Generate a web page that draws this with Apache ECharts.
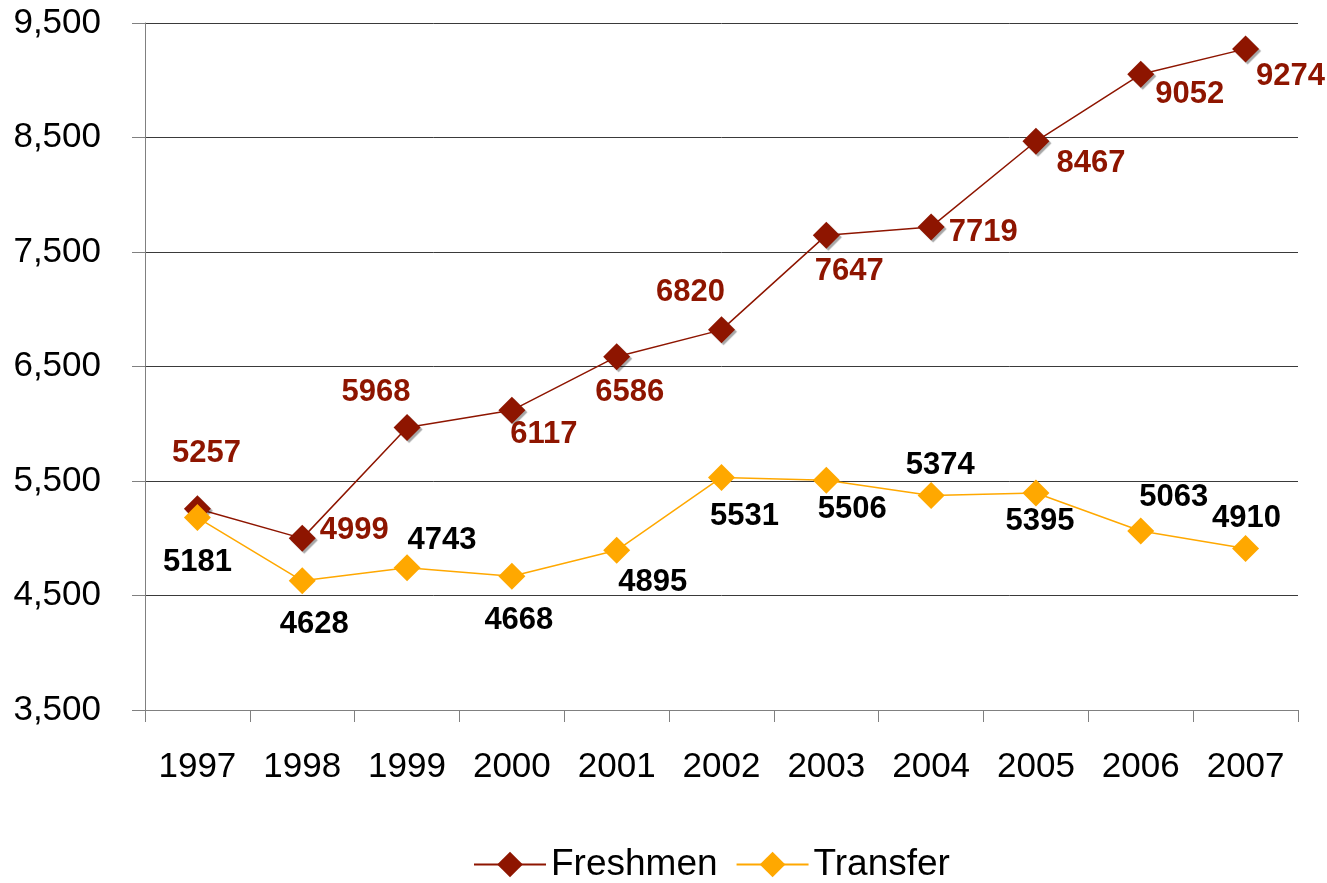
<!DOCTYPE html>
<html>
<head>
<meta charset="utf-8">
<script src="https://cdn.jsdelivr.net/npm/echarts@6/dist/echarts.min.js"></script>
<style>
  html, body { margin: 0; padding: 0; background: #fff; }
  #main { width: 1327px; height: 883px; }
</style>
</head>
<body>
<div id="main"></div>
<script>
var years = ['1997', '1998', '1999', '2000', '2001', '2002', '2003', '2004', '2005', '2006', '2007'];
var freshmen = [5257, 4999, 5968, 6117, 6586, 6820, 7647, 7719, 8467, 9052, 9274];
var transfer = [5181, 4628, 4743, 4668, 4895, 5531, 5506, 5374, 5395, 5063, 4910];

// label offsets from the marker centre (px)
var freshOffsets = [[9, -55], [52, -8], [-31, -35], [32, 24], [13, 36], [-31, -37], [23, 36], [52, 6], [55, 22], [49, 20], [45, 28]];
var transOffsets = [[0, 45], [12, 44], [35, -27], [7, 44], [36, 32], [23, 39], [26, 29], [9, -30], [4, 28], [33, -34], [1, -30]];

var labelFont = '"Liberation Sans Narrow", "Arial Narrow", "Liberation Sans", Arial, sans-serif';
var axisFont = '"Liberation Sans", Arial, sans-serif';

function withLabels(values, offsets, color) {
  return values.map(function (v, i) {
    return {
      value: v,
      label: {
        show: true,
        position: 'inside',
        offset: offsets[i],
        color: color,
        fontFamily: labelFont,
        fontWeight: 'bold',
        fontSize: 31
      }
    };
  });
}

var chart = echarts.init(document.getElementById('main'));
var option = {
  animation: false,
  grid: { left: 145, right: 29, top: 23, bottom: 173 },
  legend: {
    left: 468,
    bottom: -5,
    itemWidth: 72,
    itemHeight: 32,
    itemGap: 18,
    textStyle: { fontFamily: axisFont, fontSize: 37, color: '#000' },
    data: ['Freshmen', 'Transfer']
  },
  xAxis: {
    type: 'category',
    data: years,
    boundaryGap: true,
    axisLine: { lineStyle: { color: '#808080', width: 1 } },
    axisTick: { show: true, length: 12, lineStyle: { color: '#808080' } },
    axisLabel: { margin: 40, color: '#000', fontFamily: axisFont, fontSize: 35 }
  },
  yAxis: {
    type: 'value',
    min: 3500,
    max: 9500,
    interval: 1000,
    axisLine: { show: true, lineStyle: { color: '#808080', width: 1 } },
    axisTick: { show: true, length: 13, lineStyle: { color: '#808080' } },
    axisLabel: {
      margin: 44,
      color: '#000',
      fontFamily: axisFont,
      fontSize: 35,
      formatter: function (v) { return echarts.format.addCommas(v); }
    },
    splitLine: { lineStyle: { color: '#3a3a3a', width: 1 } }
  },
  series: [
    {
      name: 'Freshmen',
      type: 'line',
      data: withLabels(freshmen, freshOffsets, '#8e1500'),
      symbol: 'diamond',
      symbolSize: 27,
      itemStyle: { color: '#8e1500', shadowColor: 'rgba(0,0,0,0.35)', shadowOffsetX: 2, shadowOffsetY: 2, shadowBlur: 1 },
      lineStyle: { color: '#8e1500', width: 1.5 },
      z: 3
    },
    {
      name: 'Transfer',
      type: 'line',
      data: withLabels(transfer, transOffsets, '#000'),
      symbol: 'diamond',
      symbolSize: 27,
      itemStyle: { color: '#ffa800' },
      lineStyle: { color: '#ffa800', width: 1.5 },
      z: 4
    }
  ]
};
chart.setOption(option);
</script>
</body>
</html>
